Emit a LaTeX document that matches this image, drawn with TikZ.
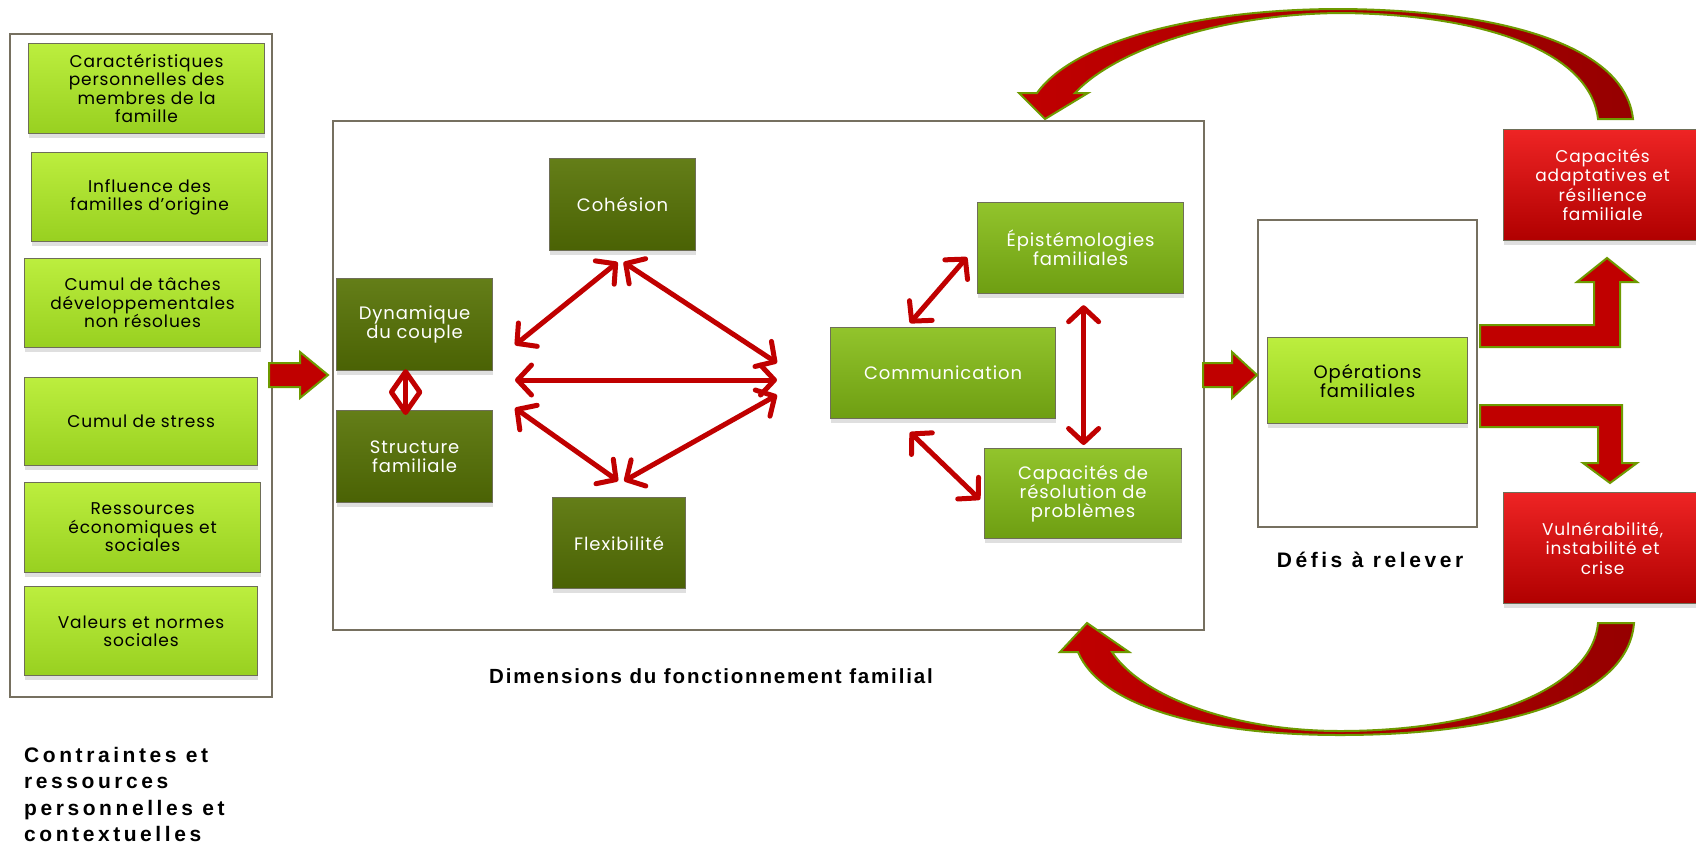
\documentclass[tikz,border=0pt]{standalone}
\usepackage{fontspec}
\setmainfont{Poppins}[LetterSpace=5]
\newfontfamily\labfont{Liberation Sans}[LetterSpace=9]
\newfontfamily\labfontw{Liberation Sans}[LetterSpace=17]
\usetikzlibrary{arrows.meta,shadows,calc}
\definecolor{lgA}{HTML}{BCEE3E}
\definecolor{lgB}{HTML}{98D020}
\definecolor{dgA}{HTML}{647E18}
\definecolor{dgB}{HTML}{4A6204}
\definecolor{mgA}{HTML}{92C42C}
\definecolor{mgB}{HTML}{6E9E12}
\definecolor{rdA}{HTML}{EE2424}
\definecolor{rdB}{HTML}{B00000}
\definecolor{arrred}{HTML}{C00000}
\definecolor{arrdark}{HTML}{960000}
\definecolor{arrgreen}{HTML}{6E9A00}
\definecolor{framec}{HTML}{767060}
\definecolor{boxedge}{HTML}{6E6E58}
\begin{document}
\begin{tikzpicture}[x=1pt,y=-1pt,
  box/.style={rectangle, inner sep=2pt, align=center, anchor=north west,
    draw=boxedge, line width=1.2pt, font=\fontsize{17}{18.5}\selectfont,
    drop shadow={shadow xshift=0pt,shadow yshift=-4pt,opacity=0.25}},
  lbox/.style={box, top color=lgA, bottom color=lgB, text=black},
  dbox/.style={box, top color=dgA, bottom color=dgB, text=white, font=\fontsize{18}{19}\selectfont},
  mbox/.style={box, top color=mgA, bottom color=mgB, text=white, font=\fontsize{18}{19}\selectfont},
  rbox/.style={box, top color=rdA, bottom color=rdB, text=white, font=\fontsize{17}{19.5}\selectfont},
  frame/.style={rectangle, draw=framec, line width=2pt, fill=white, anchor=north west, inner sep=0pt},
  rarr/.style={draw=arrred, line width=5pt, line cap=round,
    {Straight Barb[length=14pt,width=30pt,round]}-{Straight Barb[length=14pt,width=30pt,round]}},
  darr/.style={draw=arrred, line width=5pt, line cap=round,
    {Straight Barb[length=20pt,width=28pt,round]}-{Straight Barb[length=20pt,width=28pt,round]}},
  blk/.style={fill=arrred, draw=arrgreen, line width=2pt, line join=miter},
  curv/.style={left color=arrred, right color=arrdark, draw=arrgreen, line width=2pt, line join=miter},
  lab/.style={font=\labfont\bfseries\fontsize{20.5}{27}\selectfont, align=left, inner sep=0pt},
  labw/.style={font=\labfontw\bfseries\fontsize{21}{26.5}\selectfont, align=left, inner sep=0pt}
]
\useasboundingbox (0,0) rectangle (1696,844);
\fill[white] (0,0) rectangle (1696,844);

% frames
\node[frame, minimum width=262pt, minimum height=663pt] (F1) at (9,33) {};
\node[frame, minimum width=871pt, minimum height=509pt] (F2) at (332,120) {};
\node[frame, minimum width=219pt, minimum height=307pt] (F3) at (1257,219) {};

% left column
\node[lbox, minimum width=236pt, minimum height=90pt] (c1) at (28,43) {Caractéristiques\\personnelles des\\membres de la\\famille};
\node[lbox, minimum width=236pt, minimum height=89pt] (c2) at (31,152) {Influence des\\familles d’origine};
\node[lbox, minimum width=236pt, minimum height=89pt] (c3) at (24,258) {Cumul de tâches\\développementales\\non résolues};
\node[lbox, minimum width=233pt, minimum height=88pt] (c4) at (24,377) {Cumul de stress};
\node[lbox, minimum width=236pt, minimum height=90pt] (c5) at (24,482) {Ressources\\économiques et\\sociales};
\node[lbox, minimum width=233pt, minimum height=89pt] (c6) at (24,586) {Valeurs et normes\\sociales};

% middle dark boxes
\node[dbox, minimum width=146pt, minimum height=92pt] (coh) at (549,158) {Cohésion};
\node[dbox, minimum width=156pt, minimum height=92pt] (dyn) at (336,278) {Dynamique\\du couple};
\node[dbox, minimum width=156pt, minimum height=92pt] (str) at (336,410) {Structure\\familiale};
\node[dbox, minimum width=133pt, minimum height=91pt] (flx) at (552,497) {Flexibilité};

% communication group
\node[mbox, minimum width=225pt, minimum height=91pt] (com) at (830,327) {Communication};
\node[mbox, minimum width=206pt, minimum height=91pt] (epi) at (977,202) {Épistémologies\\familiales};
\node[mbox, minimum width=197pt, minimum height=90pt] (cap) at (984,448) {Capacités de\\résolution de\\problèmes};

% right
\node[lbox, minimum width=200pt, minimum height=86pt, font=\fontsize{18}{19}\selectfont] (ope) at (1267,337) {Opérations\\familiales};
\node[rbox, minimum width=198pt, minimum height=111pt] (res) at (1503,129) {Capacités\\adaptatives et\\résilience\\familiale};
\node[rbox, minimum width=198pt, minimum height=111pt] (vul) at (1503,492) {Vulnérabilité,\\instabilité et\\crise};

% labels
\node[labw, anchor=north west] (t1) at (24,747) {Contraintes et\\ressources\\personnelles et\\contextuelles};
\node[lab, anchor=base] (t2) at (711,683) {Dimensions du fonctionnement familial};
\node[labw, anchor=base] (t3) at (1370,567) {Défis à relever};

% free ends of the double arrows
\coordinate (pL1) at (515,345);
\coordinate (pL2) at (515,380);
\coordinate (pL3) at (515,408);
\coordinate (pR1) at (777,363);
\coordinate (pR2) at (777,380);
\coordinate (pR3) at (777,395);
\coordinate (cohL) at ($(coh.south)+(-5,11)$);
\coordinate (cohR) at ($(coh.south)+(1,11)$);
\coordinate (flxL) at ($(flx.north)+(-1,-16)$);
\coordinate (flxR) at ($(flx.north)+(5,-16)$);

\draw[rarr] (pL1) -- (cohL);
\draw[rarr] (cohR) -- (pR1);
\draw[rarr] (pL2) -- (pR2);
\draw[rarr] (pL3) -- (flxL);
\draw[rarr] (flxR) -- (pR3);
\draw[darr] ($(dyn.south)+(-9,-2)$) -- ($(str.north)+(-9,5)$);

\draw[rarr] ($(com.north west)+(80,-4)$) -- ($(epi.south west)+(-10,-37)$);
\draw[rarr] ($(epi.south)+(3,11)$) -- ($(cap.north)+(0.5,-3)$);
\draw[rarr] ($(com.south west)+(80,13)$) -- ($(cap.west)+(-4,6)$);

% block arrows
\draw[blk] (269,363) -- (300,363) -- (300,352) -- (328,375) -- (300,398) -- (300,387) -- (269,387) -- cycle;
\draw[blk] (1203,363) -- (1232,363) -- (1232,352) -- (1257,375) -- (1232,398) -- (1232,387) -- (1203,387) -- cycle;
\draw[blk] (1480,325) -- (1594,325) -- (1594,282) -- (1577,282) -- (1607,258) -- (1637,282) -- (1620,282) -- (1620,347) -- (1480,347) -- cycle;
\draw[blk] (1480,405) -- (1622,405) -- (1622,463) -- (1637,463) -- (1610,483) -- (1583,463) -- (1598,463) -- (1598,427) -- (1480,427) -- cycle;

% curved arrows
\draw[curv] (1633,119) .. controls (1625,45) and (1500,10) .. (1340,9) .. controls (1200,9) and (1075,40) .. (1037,93) -- (1019,93) -- (1045,119) -- (1088,93) -- (1075,93) .. controls (1115,50) and (1220,14) .. (1340,13) .. controls (1480,14) and (1590,50) .. (1598,119) -- cycle;
\draw[curv] (1634,623) .. controls (1628,700) and (1500,735) .. (1340,735) .. controls (1200,735) and (1100,705) .. (1078,652) -- (1060,652) -- (1087,623) -- (1129,652) -- (1112,652) .. controls (1140,695) and (1230,731) .. (1340,731) .. controls (1480,731) and (1592,690) .. (1598,623) -- cycle;
\end{tikzpicture}
\end{document}
